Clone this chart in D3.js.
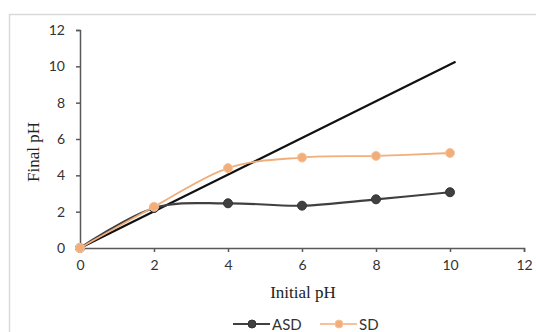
<!DOCTYPE html>
<html><head><meta charset="utf-8">
<script src="https://cdn.jsdelivr.net/npm/d3@7"></script>
<style>body{margin:0;background:#fff}svg{display:block}</style>
</head><body>
<script>
const initialPH = [0, 2, 4, 6, 8, 10];
const asd = [0, 2.2, 2.46, 2.33, 2.68, 3.07];
const sd = [0, 2.27, 4.4, 4.98, 5.07, 5.23];
const refX = [0, 10.15];
const refY = [0, 10.25];
const xTicks = [0, 2, 4, 6, 8, 10, 12];
const yTicks = [0, 2, 4, 6, 8, 10, 12];
const seriesNames = ["ASD", "SD"];

const W = 536, H = 332;
const svg = d3.select("body").append("svg").attr("width", W).attr("height", H);
svg.append("rect").attr("x", 9.5).attr("y", 14.5).attr("width", 560).attr("height", 340)
  .attr("fill", "#fff").attr("stroke", "#d9d9d9").attr("stroke-width", 1.5);

const x = d3.scaleLinear().domain([0, 12]).range([80, 524]);
const y = d3.scaleLinear().domain([0, 12]).range([248, 30]);
const tickFont = "Lato, 'Open Sans', sans-serif";

const xAxis = svg.append("g").attr("transform", "translate(0,248)")
  .call(d3.axisBottom(x).tickValues(xTicks).tickSize(4).tickPadding(8).tickFormat(d3.format("d")));
const yAxis = svg.append("g").attr("transform", "translate(80,0)")
  .call(d3.axisLeft(y).tickValues(yTicks).tickSize(4).tickPadding(11).tickFormat(d3.format("d")));
[xAxis, yAxis].forEach(g => {
  g.select(".domain").attr("stroke", "#595959").attr("stroke-width", 1.5);
  g.selectAll(".tick line").attr("stroke", "#595959").attr("stroke-width", 1.5);
  g.selectAll(".tick text").attr("fill", "#333").style("font-family", tickFont).style("font-size", "14px");
});

const line = d3.line().x(d => x(d[0])).y(d => y(d[1])).curve(d3.curveCatmullRom.alpha(0));
const straight = d3.line().x(d => x(d[0])).y(d => y(d[1]));

svg.append("path").datum(refX.map((v, i) => [v, refY[i]])).attr("d", straight)
  .attr("fill", "none").attr("stroke", "#111").attr("stroke-width", 2.2);

const colors = {ASD: "#404040", SD: "#F2AE7A"};
const data = {ASD: asd, SD: sd};
seriesNames.forEach(name => {
  const pts = initialPH.map((v, i) => [v, data[name][i]]);
  svg.append("path").datum(pts).attr("d", line).attr("fill", "none")
    .attr("stroke", colors[name]).attr("stroke-width", name === "ASD" ? 2.2 : 1.8);
  svg.append("g").selectAll("circle").data(pts).join("circle")
    .attr("cx", d => x(d[0])).attr("cy", d => y(d[1])).attr("r", 4.5)
    .attr("fill", colors[name]).attr("stroke", name === "ASD" ? "#333" : "#F6C49C").attr("stroke-width", 1);
});

svg.append("text").attr("x", 303).attr("y", 298).attr("text-anchor", "middle")
  .style("font-family", "'Liberation Serif', serif").style("font-size", "17px").attr("fill", "#222").text("Initial pH");
svg.append("text").attr("transform", "translate(39,152) rotate(-90)").attr("text-anchor", "middle")
  .style("font-family", "'Liberation Serif', serif").style("font-size", "17px").attr("fill", "#222").text("Final pH");

const leg = [{name: "ASD", x0: 233}, {name: "SD", x0: 320}];
leg.forEach(l => {
  svg.append("line").attr("x1", l.x0).attr("x2", l.x0 + 37).attr("y1", 324).attr("y2", 324)
    .attr("stroke", colors[l.name]).attr("stroke-width", l.name === "ASD" ? 2 : 1.5);
  svg.append("circle").attr("cx", l.x0 + 19).attr("cy", 324).attr("r", 4)
    .attr("fill", colors[l.name]).attr("stroke", l.name === "ASD" ? "#333" : "#F6C49C");
  svg.append("text").attr("x", l.x0 + 39).attr("y", 329.5).style("font-family", tickFont)
    .style("font-size", "15px").attr("fill", "#333").text(l.name);
});
</script>
</body></html>
